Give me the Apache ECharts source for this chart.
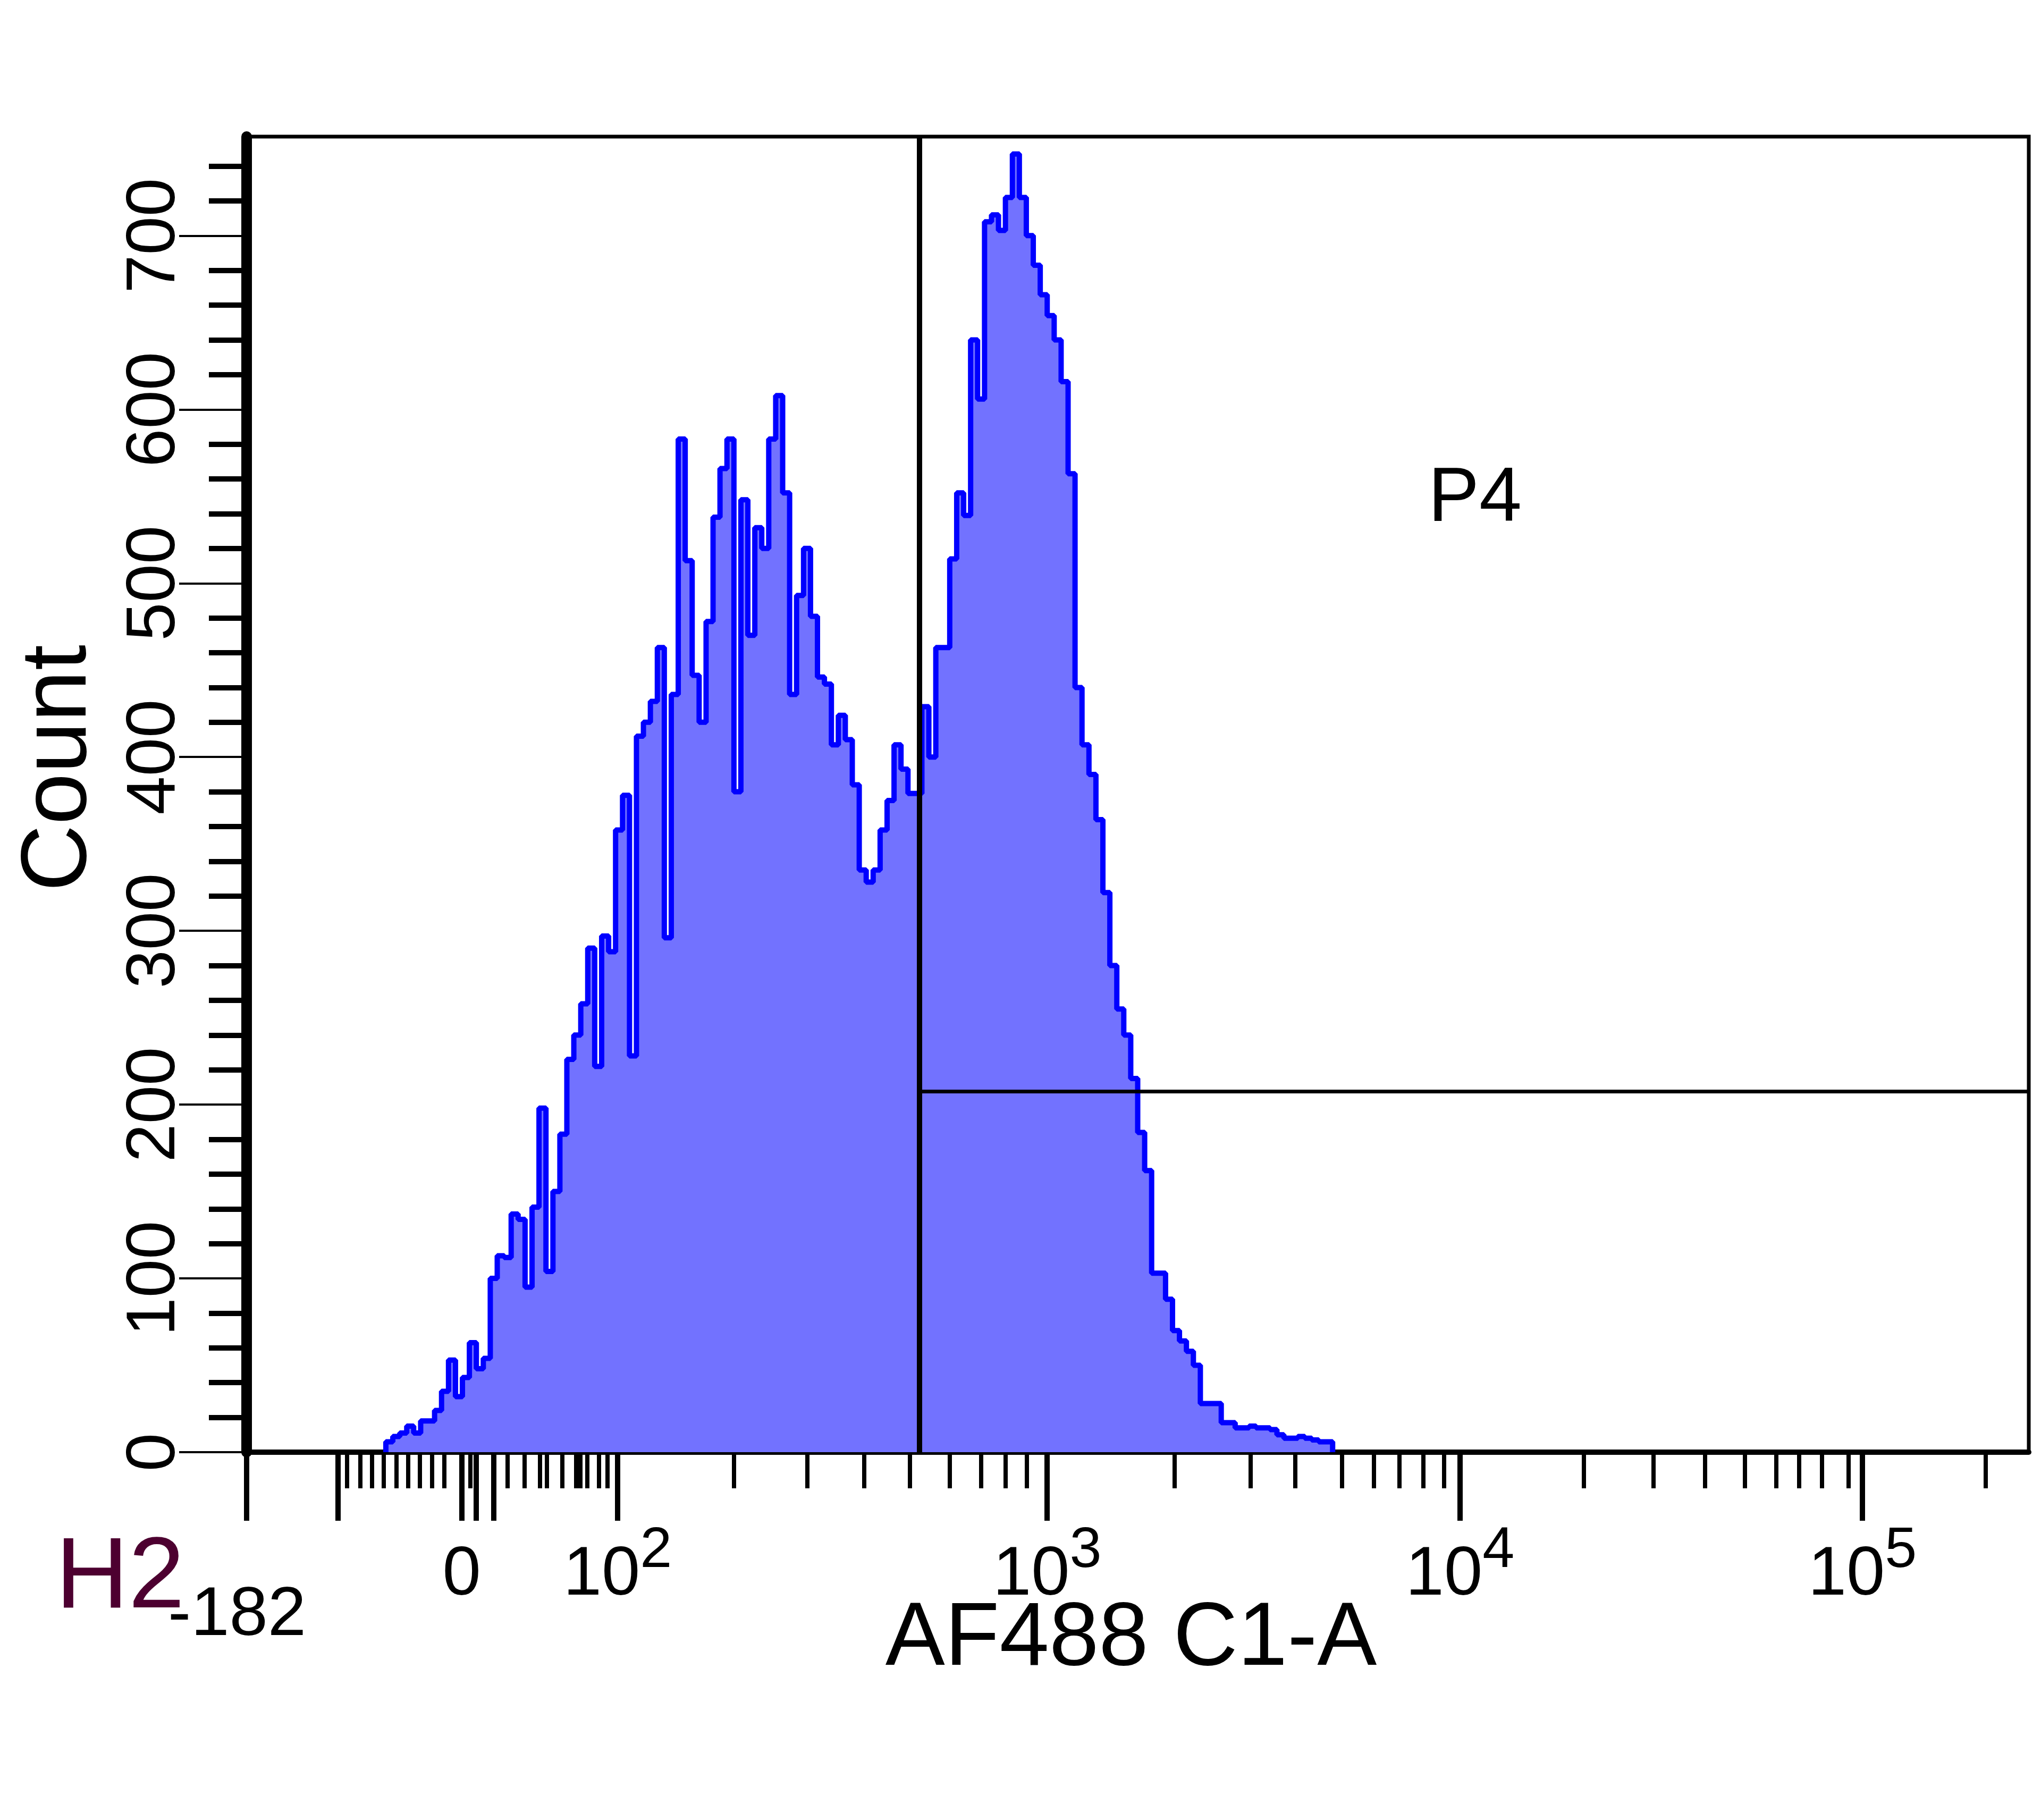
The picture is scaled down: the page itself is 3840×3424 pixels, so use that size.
<!DOCTYPE html>
<html><head><meta charset="utf-8">
<style>html,body{margin:0;padding:0;background:#fff;}#chart{width:3840px;height:3424px;}</style>
<script src="https://cdn.jsdelivr.net/npm/echarts@6/dist/echarts.min.js"></script>
</head><body><div id="chart"></div>
<script>
// ---- data (x in display channels of the biexponential scale, 256 channels across the plot) ----
const binStart = 20;
const counts = [
  6, 9, 11, 15, 11, 18, 18, 24, 35, 53,
  32, 43, 63, 48, 54, 100, 113, 112, 137, 134,
  95, 141, 198, 104, 150, 183, 226, 240, 258, 290,
  222, 297, 288, 358, 378, 228, 412, 420, 432, 463,
  296, 436, 583, 513, 447, 420, 478, 538, 566, 583,
  380, 548, 470, 532, 520, 583, 608, 552, 436, 493,
  520, 481, 446, 442, 407, 424, 410, 384, 335, 328,
  335, 358, 375, 407, 393, 379, 379, 429, 400, 463,
  463, 514, 552, 539, 640, 606, 708, 712, 703, 722,
  747, 722, 700, 683, 666, 654, 640, 616, 563, 440,
  407, 390, 364, 322, 280, 255, 240, 215, 184, 162,
  103, 103, 88, 70, 64, 58, 50, 28, 28, 28,
  17, 17, 14, 14, 15, 14, 14, 13, 10, 8,
  8, 9, 8, 7, 6, 6
];
const yMajorTicks = [0, 100, 200, 300, 400, 500, 600, 700];
const yMinorTicks = [20, 40, 60, 80, 120, 140, 160, 180, 220, 240, 260, 280, 320, 340, 360, 380,
  420, 440, 460, 480, 520, 540, 560, 580, 620, 640, 660, 680, 720, 740];
const xMajorTicks = [0, 13.1, 30.9, 33.0, 35.5, 53.3, 115.0, 174.3, 232.1];
const xLabelValues = [30.9, 53.3, 115.0, 174.3, 232.1];
const xLabelBase = ['0', '10', '10', '10', '10'];
const xLabelExp = ['', '2', '3', '4', '5'];
const xMinorTicks = [14.4, 16.3, 18.0, 19.7, 21.5, 23.2, 24.9, 26.6, 28.4,
  32.1, 37.5, 39.9, 42.1, 43.1, 45.3, 47.3, 47.9, 48.9, 50.6, 51.8,
  70.0, 80.5, 88.7, 95.3, 101.0, 105.5, 109.0, 112.1,
  133.3, 144.2, 150.6, 157.3, 161.9, 165.6, 169.0, 172.0,
  192.1, 202.1, 209.5, 215.2, 219.7, 223.0, 226.3, 230.1, 249.8];
const xMin = 0, xMax = 256, yMin = 0, yMax = 757;
const gateX = 96.66, gateY = 207.5;
const xMinLabel = '-182';
const xTitle = 'AF488 C1-A';
const yTitle = 'Count';
const gateName = 'P4';
const plotName = 'H2';

// ---- build ----
const points = [[binStart, 0]];
counts.forEach((c, i) => points.push([binStart + i, c]));
points.push([binStart + counts.length, 0]);

const NARROW = "'Liberation Sans Narrow', 'Liberation Sans', Arial, sans-serif";
const REG = "'Liberation Sans', Arial, sans-serif";

const chart = echarts.init(document.getElementById('chart'), null, {renderer: 'canvas'});
chart.setOption({
  animation: false,
  backgroundColor: '#ffffff',
  grid: {left: 464, right: 23, top: 257, bottom: 692, show: true, borderColor: '#000', borderWidth: 7, containLabel: false},
  xAxis: [{
    type: 'value', min: xMin, max: xMax, position: 'bottom',
    axisLine: {show: true, onZero: false, lineStyle: {color: '#000', width: 10}},
    axisTick: {show: true, customValues: xMajorTicks, length: 129, lineStyle: {color: '#000', width: 10}},
    axisLabel: {
      show: true, customValues: xLabelValues, margin: 132,
      formatter: function (v) {
        let idx = 0, best = 1e9;
        xLabelValues.forEach((t, i) => { const d = Math.abs(t - v); if (d < best) { best = d; idx = i; } });
        return xLabelExp[idx] ? '{b|' + xLabelBase[idx] + '}{e|' + xLabelExp[idx] + '}' : '{b|' + xLabelBase[idx] + '}';
      },
      rich: {
        b: {fontFamily: NARROW, fontSize: 130, lineHeight: 200, color: '#000'},
        e: {fontFamily: NARROW, fontSize: 108, lineHeight: 40, verticalAlign: 'top', color: '#000'}
      }
    },
    splitLine: {show: false}
  }, {
    type: 'value', min: xMin, max: xMax, position: 'bottom',
    axisLine: {show: false, onZero: false},
    axisTick: {show: true, customValues: xMinorTicks, length: 68, lineStyle: {color: '#000', width: 8}},
    axisLabel: {show: false},
    splitLine: {show: false}
  }],
  yAxis: [{
    type: 'value', min: yMin, max: yMax, position: 'left',
    axisLine: {show: true, onZero: false, lineStyle: {color: '#000', width: 20}},
    axisTick: {show: true, customValues: yMajorTicks, length: 127, lineStyle: {color: '#000', width: 4}},
    axisLabel: {show: true, customValues: yMajorTicks, rotate: 90, margin: 102,
      fontFamily: NARROW, fontSize: 130, lineHeight: 140, color: '#000'},
    splitLine: {show: false}
  }, {
    type: 'value', min: yMin, max: yMax, position: 'left',
    axisLine: {show: false, onZero: false},
    axisTick: {show: true, customValues: yMinorTicks, length: 71, lineStyle: {color: '#000', width: 10}},
    axisLabel: {show: false},
    splitLine: {show: false}
  }],
  series: [{
    type: 'line', step: 'end', xAxisIndex: 0, yAxisIndex: 0,
    data: points, showSymbol: false, symbol: 'none', silent: true,
    lineStyle: {color: '#0000ff', width: 10},
    areaStyle: {color: '#7272ff', opacity: 1},
    markLine: {
      silent: true, symbol: ['none', 'none'], label: {show: false},
      emphasis: {disabled: true},
      data: [
        [{coord: [gateX, yMin], lineStyle: {color: '#000', width: 10, type: 'solid'}},
         {coord: [gateX, yMax]}],
        [{coord: [gateX, gateY], lineStyle: {color: '#000', width: 7, type: 'solid'}},
         {coord: [xMax, gateY]}]
      ]
    }
  }],
  graphic: [
    {type: 'text', x: 113, y: 1445, rotation: Math.PI / 2,
      style: {text: yTitle, font: '174px ' + REG, fill: '#000', align: 'center', verticalAlign: 'middle', textAlign: 'center', textVerticalAlign: 'middle'}},
    {type: 'text', x: 2128, y: 3086,
      style: {text: xTitle, font: '168px ' + REG, fill: '#000', align: 'center', verticalAlign: 'middle', textAlign: 'center', textVerticalAlign: 'middle'}},
    {type: 'text', x: 2775, y: 940,
      style: {text: gateName, font: '144px ' + REG, fill: '#000', align: 'center', verticalAlign: 'middle', textAlign: 'center', textVerticalAlign: 'middle'}},
    {type: 'text', x: 226, y: 2972,
      style: {text: plotName, font: '190px ' + REG, fill: '#4d0030', align: 'center', verticalAlign: 'middle', textAlign: 'center', textVerticalAlign: 'middle'}},
    {type: 'text', x: 446, y: 3040,
      style: {text: xMinLabel, font: '130px ' + NARROW, fill: '#000', align: 'center', verticalAlign: 'middle', textAlign: 'center', textVerticalAlign: 'middle'}}
  ]
});
</script></body></html>
